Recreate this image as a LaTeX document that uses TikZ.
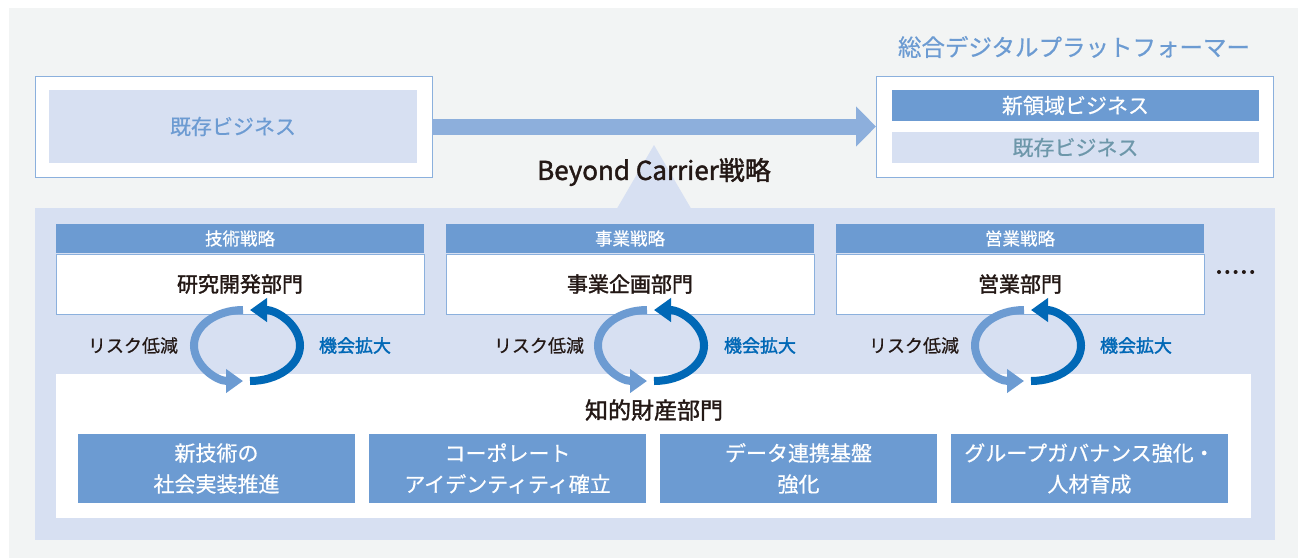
\documentclass[tikz,border=0pt]{standalone}
\usepackage{fontspec}
\setmainfont{Noto Sans CJK JP}
\newfontfamily\jpmed[FakeBold=1.6]{Noto Sans CJK JP}
\newfontfamily\jplite[FakeBold=0.6]{Noto Sans CJK JP}
\usetikzlibrary{arrows.meta}
\definecolor{bggray}{HTML}{F2F4F4}
\definecolor{panelblue}{HTML}{D7E0F2}
\definecolor{midblue}{HTML}{6C9BD2}
\definecolor{arrowblue}{HTML}{8DAFDC}
\definecolor{darkblue}{HTML}{0068B6}
\definecolor{textdark}{HTML}{231815}
\definecolor{bordblue}{HTML}{8BB0DD}
\definecolor{grayblue}{HTML}{6D97AA}
\newcommand\fsz[2]{\fontsize{#1}{#2}\selectfont}
\tikzset{
  frame/.style={draw=bordblue, line width=1pt, fill=white, inner sep=0pt, outer sep=0pt},
  lightbar/.style={fill=panelblue, inner sep=0pt, outer sep=0pt},
  bluebar/.style={fill=midblue, text=white, inner sep=0pt, outer sep=0pt},
  plain/.style={inner sep=0pt, outer sep=0pt},
  cycarrow/.style={line width=8pt, -{Triangle[length=17pt,width=23pt]}},
}
\begin{document}
\begin{tikzpicture}[x=1pt,y=-1pt]
\useasboundingbox (0,0) rectangle (1298,558);
\fill[bggray] (9,8) rectangle (1298,558);
% ---- top row
\node[frame, minimum width=397pt, minimum height=101pt] (lout) at (233.5,126.5) {};
\node[lightbar, minimum width=368pt, minimum height=73pt, text=midblue, font=\jplite\fsz{21}{25}] (lin) at (233,126.5) {既存ビジネス};
\node[frame, minimum width=397pt, minimum height=101pt] (rout) at (1074.5,126.5) {};
\node[bluebar, minimum width=367pt, minimum height=31pt, font=\jplite\fsz{21}{25}] (newb) at (1075.5,105.5) {新領域ビジネス};
\node[lightbar, minimum width=367pt, minimum height=31pt, text=grayblue, font=\jplite\fsz{21}{25}] (oldb) at (1075.5,147.5) {既存ビジネス};
\node[plain, text=midblue, font=\jplite\fsz{23.5}{28}] (title) at (1074,47) {総合デジタルプラットフォーマー};
\draw[arrowblue, line width=16pt, -{Triangle[length=20pt,width=39pt]}] (lout.east) -- (rout.west);
% ---- main panel
\node[plain, fill=panelblue, minimum width=1240pt, minimum height=332pt] (panel) at (655,374) {};
\fill[panelblue] (617,208.5) -- (654,145) -- (691,208.5) -- cycle;
\node[plain, text=textdark, font=\jpmed\fsz{26}{31}] (beyond) at (654,172) {Beyond Carrier戦略};
% ---- department groups
\foreach \i/\hx/\h/\d in {1/240/技術戦略/研究開発部門, 2/630/事業戦略/事業企画部門, 3/1020/営業戦略/営業部門}{
  \node[frame, minimum width=368pt, minimum height=60pt, text=textdark, font=\jpmed\fsz{21}{25}] (dept\i) at (\hx,284) {\d};
  \node[bluebar, minimum width=368pt, minimum height=29pt, font=\jplite\fsz{17.5}{21}] (hdr\i) at (\hx,238.5) {\h};
}
\foreach \k in {0,...,4}{\fill[textdark] (1219+8.3*\k,272) circle[radius=2pt];}
% ---- intellectual property panel
\node[plain, fill=white, minimum width=1195pt, minimum height=144pt] (ip) at (653.5,446) {};
\node[plain, text=textdark, font=\jpmed\fsz{23}{27}] (iptitle) at (654,410) {知的財産部門};
\foreach \j/\bx/\t in {1/216.5/{新技術の\\社会実装推進}, 2/507.5/{コーポレート\\アイデンティティ確立}, 3/798.5/{データ連携基盤\\強化}, 4/1089.5/{グループガバナンス強化・\\人材育成}}{
  \node[bluebar, minimum width=277pt, minimum height=69pt, align=center, font=\jplite\fsz{21}{31}] (task\j) at (\bx,468.5) {\t};
}
% ---- cycles
\foreach \i/\cx/\lx/\rx in {1/247/133/355, 2/651/539/760, 3/1028/914/1136}{
  \coordinate (lt\i) at (\cx-4,310);
  \coordinate (lb\i) at (\cx-4,381);
  \coordinate (rt\i) at (\cx+3,310);
  \coordinate (rb\i) at (\cx+3,381);
  \draw[midblue, cycarrow] (lt\i) .. controls (\cx-31,310) and (\cx-53,325.9) .. (\cx-53,345.5)
        .. controls (\cx-53,365.1) and (\cx-31,381) .. (lb\i);
  \draw[darkblue, cycarrow] (rb\i) .. controls (\cx+30.6,381) and (\cx+53,365.1) .. (\cx+53,345.5)
        .. controls (\cx+53,325.9) and (\cx+30.6,310) .. (rt\i);
  \node[plain, text=textdark, font=\jplite\fsz{18}{21}] (risk\i) at (\lx,345.5) {リスク低減};
  \node[plain, text=darkblue, font=\jpmed\fsz{18}{21}] (opp\i) at (\rx,345.5) {機会拡大};
}
\end{tikzpicture}
\end{document}
